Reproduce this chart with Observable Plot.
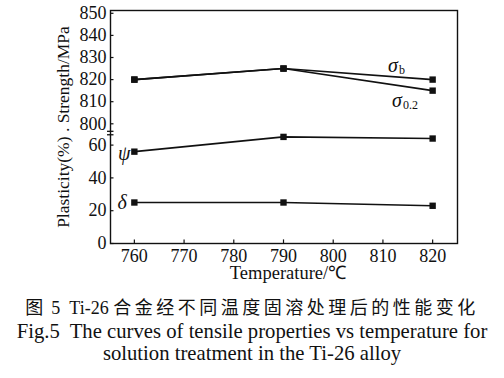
<!DOCTYPE html>
<html>
<head>
<meta charset="utf-8">
<script src="https://cdn.jsdelivr.net/npm/d3@7"></script>
<script src="https://cdn.jsdelivr.net/npm/@observablehq/plot@0.6"></script>
<style>
  body { margin: 0; background: #fff; }
  #cap { font-family: "Liberation Serif", "Noto Sans CJK SC", serif; font-size: 20.7px; text-align: center; line-height: 22.5px; color: #111; padding-top: 7px; width: 504px; }
  #cap .zh { font-size: 18px; }
  #cap .zh .c { letter-spacing: 3.5px; font-family: "Noto Sans CJK SC", sans-serif; }
</style>
</head>
<body>
<div id="chart"></div>
<div id="cap">
  <div class="zh"><span class="c">图</span> 5&nbsp; Ti-26 <span class="c">合金经不同温度固溶处理后的性能变化</span></div>
  <div>Fig.5&nbsp; The curves of tensile properties vs temperature for</div>
  <div>solution treatment in the Ti-26 alloy</div>
</div>
<script>
// Data
const temps = [760, 790, 820];
const sigmaB = [820, 825, 820];
const sigma02 = [820, 825, 815];
const psi = [56, 65, 64];
const delta = [25, 25, 23];
const xTicks = [760, 770, 780, 790, 800, 810, 820];
const yTicks = [0, 20, 40, 60, 800, 810, 820, 830, 840, 850];
const seriesLabels = [
  {main: "σ", sub: "b", x: 811.0, y: 826.5},
  {main: "σ", sub: "0.2", x: 811.8, y: 810.5},
  {main: "ψ", sub: "", x: 756.7, y: 55},
  {main: "δ", sub: "", x: 756.6, y: 25}
];

const series = [
  {name: "σb", v: sigmaB},
  {name: "σ0.2", v: sigma02},
  {name: "ψ", v: psi},
  {name: "δ", v: delta}
];
const rows = series.flatMap(s => temps.map((t, i) => ({series: s.name, t, v: s.v[i]})));

// broken axis: plasticity (0–66) below, strength (797–851) above
const brokenY = v => v < 400 ? v * 1.64 : 119.7 + (v - 800) * 2.21;
const xMin = 755.2;

const font = "Liberation Serif, Times New Roman, serif";
const chart = Plot.plot({
  width: 504,
  height: 288,
  marginLeft: 110,
  marginRight: 47,
  marginTop: 10,
  marginBottom: 45,
  style: {fontFamily: font, fontSize: "18px", color: "#111", background: "#fff"},
  x: {domain: [xMin, 825], label: null},
  y: {transform: brokenY, domain: [0, 233], label: null, axis: null},
  marks: [
    Plot.frame({stroke: "#111", strokeWidth: 1.4}),
    // axis break on the left edge
    Plot.ruleY([66.3, 796.6], {x1: xMin - 0.6, x2: xMin + 0.7, stroke: "#111", strokeWidth: 1.3}),
    // inward ticks
    Plot.ruleY(yTicks, {x1: xMin, x2: xMin + 0.7, stroke: "#111", strokeWidth: 1.2}),
    Plot.ruleX(xTicks, {y1: 0, y2: 2.2, stroke: "#111", strokeWidth: 1.2}),
    // y tick labels
    Plot.text(yTicks, {x: xMin, y: d => d, text: d => String(d), textAnchor: "end", lineAnchor: "middle", dx: -4, fontSize: 18, fill: "#111"}),
    Plot.axisX({ticks: xTicks, tickSize: 0, tickPadding: 6, tickFormat: d => String(d), fontSize: 18, label: null}),
    Plot.line(rows, {x: "t", y: "v", z: "series", stroke: "#111", strokeWidth: 1.6}),
    Plot.dot(rows, {x: "t", y: "v", symbol: "square", r: 3.6, fill: "#111", stroke: "none"}),
    Plot.text(seriesLabels, {x: "x", y: "y", text: "main", fontSize: 20, fontStyle: "italic", textAnchor: "start", fill: "#111"}),
    Plot.text(seriesLabels, {x: "x", y: "y", text: "sub", fontSize: 12, textAnchor: "start", dx: 11, dy: 5, fill: "#111"}),
    Plot.text(["Plasticity(%) . Strength/MPa"], {frameAnchor: "left", rotate: -90, dx: -47, dy: 0, textAnchor: "middle", lineAnchor: "middle", fontSize: 17.5, fill: "#111"}),
    Plot.text(["Temperature/℃"], {frameAnchor: "bottom", dy: 30, dx: 4, lineAnchor: "middle", fontSize: 18.5, fill: "#111"})
  ]
});
document.getElementById("chart").appendChild(chart);
</script>
</body>
</html>
